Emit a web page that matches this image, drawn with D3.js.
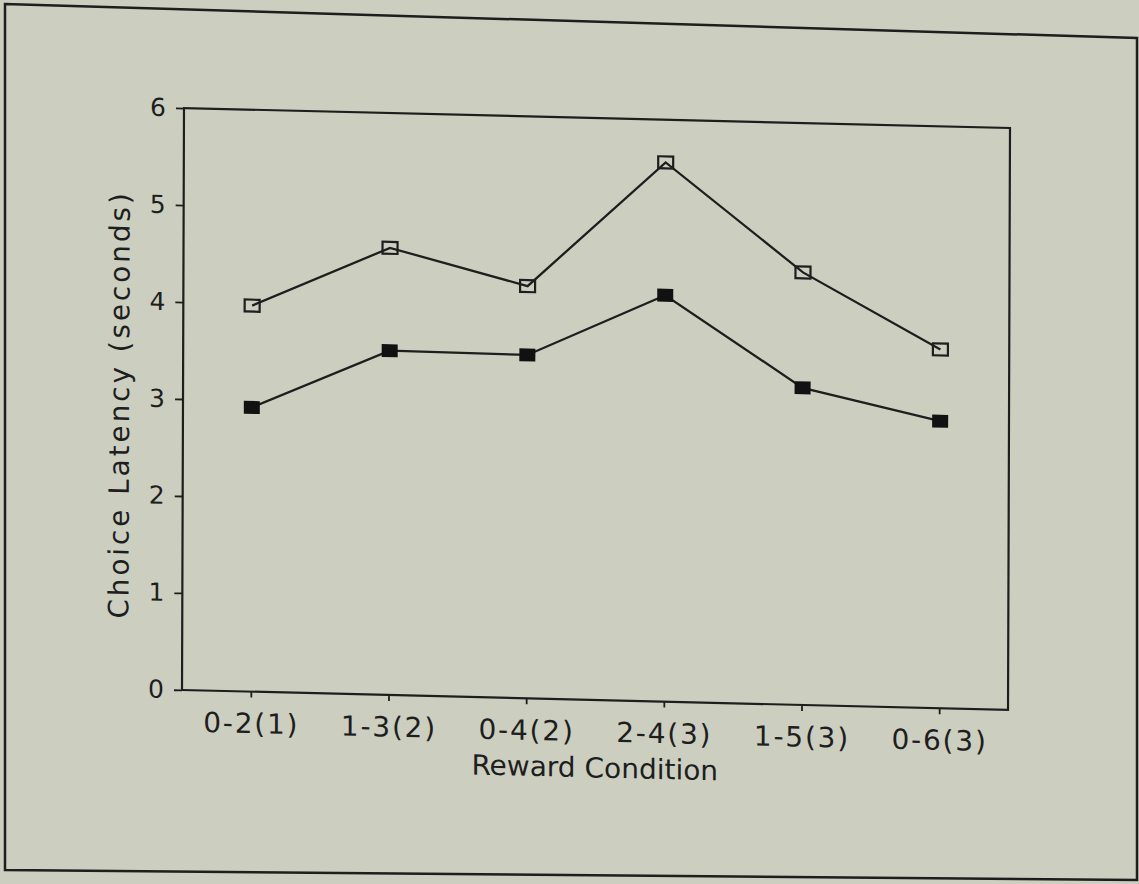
<!DOCTYPE html>
<html>
<head>
<meta charset="utf-8">
<script src="https://cdn.jsdelivr.net/npm/d3@7"></script>
<style>
  html, body { margin: 0; padding: 0; background: #cccfc0; }
  svg { display: block; font-family: 'DejaVu Sans', sans-serif; }
</style>
</head>
<body>
<svg id="chart"></svg>
<script>
// data
const conditions = ['0-2(1)', '1-3(2)', '0-4(2)', '2-4(3)', '1-5(3)', '0-6(3)'];
const openSeries = [3.98, 4.61, 4.25, 5.56, 4.46, 3.70];
const filledSeries = [2.93, 3.55, 3.54, 4.19, 3.27, 2.96];
const yTicks = [0, 1, 2, 3, 4, 5, 6];

const width = 1139;
const height = 884;
const ink = '#1e1e1e';

const svg = d3.select('#chart')
  .attr('width', width)
  .attr('height', height);

svg.append('rect')
  .attr('width', width)
  .attr('height', height)
  .attr('fill', '#cccfc0');

// outer page frame (the scan is slightly skewed)
const frame = [[5, 4], [1137, 38], [1137, 880], [5, 870]];
svg.append('path')
  .attr('d', d3.line()(frame) + 'Z')
  .attr('fill', 'none')
  .attr('stroke', ink)
  .attr('stroke-width', 2.5);

// plot area, drawn straight then sheared like the scan
const plot = { left: 184, right: 1010, top: 106, bottom: 692 };

const g = svg.append('g')
  .attr('transform', 'matrix(1, 0.0242, -0.0034, 0.993, 0.36, -1.65)');

const x = d3.scalePoint()
  .domain(conditions)
  .range([plot.left, plot.right])
  .padding(0.5);

const y = d3.scaleLinear()
  .domain([0, 6])
  .range([plot.bottom, plot.top]);

// box
g.append('rect')
  .attr('x', plot.left)
  .attr('y', plot.top)
  .attr('width', plot.right - plot.left)
  .attr('height', plot.bottom - plot.top)
  .attr('fill', 'none')
  .attr('stroke', ink)
  .attr('stroke-width', 2.2);

const yAxis = g.append('g')
  .attr('transform', `translate(${plot.left},0)`)
  .call(d3.axisLeft(y).tickValues(yTicks).tickSize(8).tickSizeOuter(0).tickPadding(10).tickFormat(d3.format('d')));

const xAxis = g.append('g')
  .attr('transform', `translate(0,${plot.bottom})`)
  .call(d3.axisBottom(x).tickSize(6).tickSizeOuter(0).tickPadding(16));

[xAxis, yAxis].forEach(a => {
  a.select('.domain').remove();
  a.selectAll('line').attr('stroke', ink).attr('stroke-width', 1.8);
  a.selectAll('text')
    .attr('fill', ink)
    .style('font-family', "'DejaVu Sans', sans-serif");
});
yAxis.selectAll('text').style('font-size', '25px');
xAxis.selectAll('text').style('font-size', '28px').style('letter-spacing', '1.8px');

// axis titles
g.append('text')
  .attr('x', (plot.left + plot.right) / 2)
  .attr('y', 770)
  .attr('text-anchor', 'middle')
  .attr('fill', ink)
  .style('font-size', '28px')
  .text('Reward Condition');

g.append('text')
  .attr('transform', 'translate(120,406) rotate(-90)')
  .attr('dy', '0.36em')
  .attr('text-anchor', 'middle')
  .attr('fill', ink)
  .style('font-size', '28px')
  .style('letter-spacing', '3px')
  .text('Choice Latency (seconds)');

// lines
const line = d3.line()
  .x((d, i) => x(conditions[i]))
  .y(d => y(d));

[openSeries, filledSeries].forEach(s => {
  g.append('path')
    .datum(s)
    .attr('d', line)
    .attr('fill', 'none')
    .attr('stroke', ink)
    .attr('stroke-width', 2.3);
});

// markers
const mw = 15, mh = 12;
g.append('g')
  .selectAll('rect')
  .data(openSeries)
  .enter()
  .append('rect')
  .attr('x', (d, i) => x(conditions[i]) - mw / 2)
  .attr('y', d => y(d) - mh / 2)
  .attr('width', mw)
  .attr('height', mh)
  .attr('fill', 'none')
  .attr('stroke', ink)
  .attr('stroke-width', 2.2);

g.append('g')
  .selectAll('rect')
  .data(filledSeries)
  .enter()
  .append('rect')
  .attr('x', (d, i) => x(conditions[i]) - (mw + 1) / 2)
  .attr('y', d => y(d) - (mh + 1) / 2)
  .attr('width', mw + 1)
  .attr('height', mh + 1)
  .attr('fill', '#111');
</script>
</body>
</html>
